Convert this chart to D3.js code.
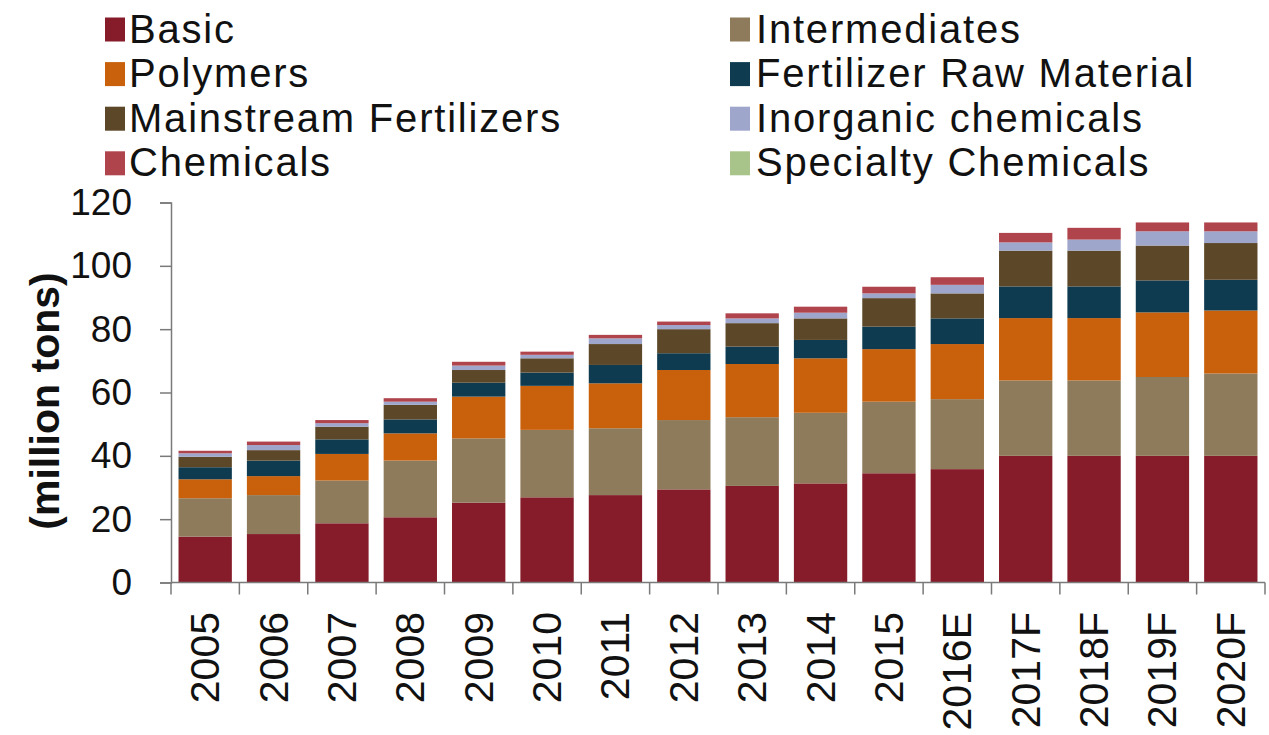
<!DOCTYPE html>
<html>
<head>
<meta charset="utf-8">
<script src="https://cdn.jsdelivr.net/npm/d3@7"></script>
<style>
  html, body { margin: 0; padding: 0; background: #fff; }
  svg { display: block; }
  text { font-family: "Liberation Sans", Arial, sans-serif; fill: #111; }
</style>
</head>
<body>
<svg id="chart" width="1269" height="735"></svg>
<script>
const categories = ["2005","2006","2007","2008","2009","2010","2011","2012","2013","2014","2015","2016E","2017F","2018F","2019F","2020F"];
const seriesNames = ["Basic","Intermediates","Polymers","Fertilizer Raw Material","Mainstream Fertilizers","Inorganic chemicals","Chemicals","Specialty Chemicals"];
const basic         = [14.5,15.3,18.7,20.6,25.2,26.9,27.6,29.4,30.5,31.3,34.5,35.8,40.0,40.0,40.0,40.0];
const intermediates = [12.1,12.3,13.5,17.9,20.3,21.3,21.1,21.9,21.7,22.3,22.6,22.1,23.8,23.8,24.9,26.0];
const polymers      = [6.0,6.0,8.4,8.6,13.2,13.9,14.2,15.8,16.8,17.2,16.6,17.4,19.7,19.7,20.4,19.9];
const fertRaw       = [3.8,4.9,4.6,4.4,4.4,4.2,5.8,5.3,5.5,5.8,7.1,8.1,10.0,10.0,10.1,9.7];
const mainstream    = [3.3,3.3,4.0,4.6,4.0,4.5,6.6,7.6,7.4,6.8,9.0,7.9,11.3,11.3,11.0,11.6];
const inorganic     = [1.1,1.6,1.1,1.0,1.4,1.1,1.8,1.3,1.5,1.8,1.5,2.7,2.6,3.5,4.5,3.7];
const chemicals     = [0.8,1.1,1.0,1.1,1.2,1.0,1.1,1.1,1.6,1.9,2.1,2.4,3.0,3.7,2.8,2.8];
const specialty     = [0,0,0,0,0,0,0,0,0,0,0,0,0,0,0,0];
const yTicks = [0,20,40,60,80,100,120];
const colors = ["#861c2a","#8e7b5b","#c8600c","#0e3b50","#5c4728","#9ea6cc","#b0444c","#a9c48a"];
const legendLeft = ["Basic","Polymers","Mainstream Fertilizers","Chemicals"];
const legendRight = ["Intermediates","Fertilizer Raw Material","Inorganic chemicals","Specialty Chemicals"];

const seriesValues = [basic, intermediates, polymers, fertRaw, mainstream, inorganic, chemicals, specialty];
const table = categories.map((c, i) => {
  const row = { cat: c };
  seriesNames.forEach((s, j) => row[s] = seriesValues[j][i]);
  return row;
});

const svg = d3.select("#chart");
const plotLeft = 171, plotRight = 1265, plotTop = 202.5, plotBottom = 582.5;

const x = d3.scaleBand().domain(categories).range([plotLeft, plotRight]).paddingInner(0.22).paddingOuter(0.11);
const y = d3.scaleLinear().domain([0, 120]).range([plotBottom, plotTop]);
const color = d3.scaleOrdinal().domain(seriesNames).range(colors);

const stacked = d3.stack().keys(seriesNames)(table);

svg.append("g").selectAll("g").data(stacked).join("g")
  .attr("fill", d => color(d.key))
  .selectAll("rect").data(d => d).join("rect")
  .attr("x", d => x(d.data.cat))
  .attr("width", x.bandwidth())
  .attr("y", d => y(d[1]))
  .attr("height", d => Math.max(0, y(d[0]) - y(d[1])));

// Y axis
const yAxis = d3.axisLeft(y).tickValues(yTicks).tickSize(11).tickPadding(28);
const gy = svg.append("g").attr("transform", `translate(${plotLeft},0)`).call(yAxis);
gy.select(".domain").attr("stroke", "#7a7a7a").attr("stroke-width", 1.5);
gy.selectAll(".tick line").attr("stroke", "#7a7a7a").attr("stroke-width", 1.5);
gy.selectAll(".tick text").attr("font-size", 37).attr("fill", "#111")
  .style("font-family", '"Liberation Sans", Arial, sans-serif');

// X axis
const step = x.step();
const boundaries = categories.map(c => x(c) - step * x.paddingInner() / 2).concat([plotRight]);
svg.append("line").attr("x1", plotLeft).attr("x2", plotRight).attr("y1", plotBottom).attr("y2", plotBottom)
  .attr("stroke", "#7a7a7a").attr("stroke-width", 1.5);
svg.append("g").selectAll("line").data(boundaries).join("line")
  .attr("x1", d => d).attr("x2", d => d).attr("y1", plotBottom).attr("y2", plotBottom + 12)
  .attr("stroke", "#7a7a7a").attr("stroke-width", 1.5);
svg.append("g").selectAll("text").data(categories).join("text")
  .attr("transform", d => `translate(${x(d) + x.bandwidth() / 2 + 14},612) rotate(-90)`)
  .attr("text-anchor", "end")
  .attr("font-size", 41)
  .text(d => d);

// Y title
svg.append("text")
  .attr("transform", `translate(59,401) rotate(-90)`)
  .attr("text-anchor", "middle")
  .attr("font-size", 41)
  .attr("font-weight", "bold")
  .text("(million tons)");

// Legend
function legendColumn(names, sx, tx) {
  const g = svg.append("g");
  names.forEach((n, i) => {
    const cy = 29.5 + i * 44.6;
    g.append("rect").attr("x", sx).attr("y", cy - 12).attr("width", 20).attr("height", 24)
      .attr("fill", color(n));
    g.append("text").attr("x", tx).attr("y", cy + 13).attr("font-size", 40)
      .attr("letter-spacing", 1.8).text(n);
  });
}
legendColumn(legendLeft, 105, 129);
legendColumn(legendRight, 730, 756);
</script>
</body>
</html>
